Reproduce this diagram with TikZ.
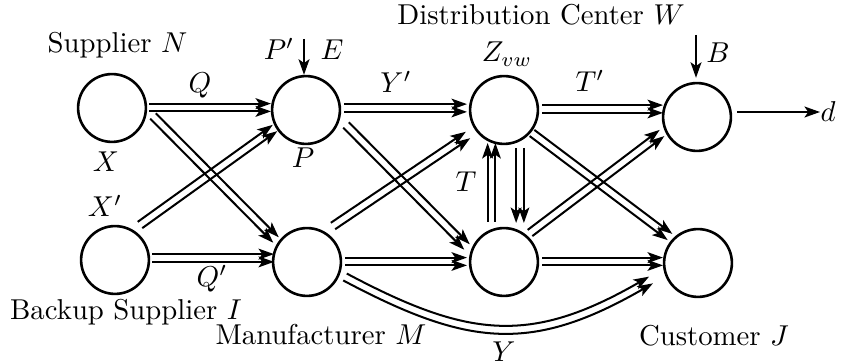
\documentclass[tikz,border=0pt]{standalone}
\usetikzlibrary{calc,arrows.meta}
\newcommand\dbl[4]{%
  \path ($(#1)+(#2)$) coordinate (s) ($(#3)+(#4)$) coordinate (t);
  \draw[arr] ($(s)!1.35pt!90:(t)$) -- ($(t)!1.35pt!-90:(s)$);
  \draw[arr] ($(s)!1.35pt!-90:(t)$) -- ($(t)!1.35pt!90:(s)$);}
\begin{document}
\begin{tikzpicture}[x=0.348pt,y=0.348pt,
  hub/.style={circle,draw,line width=0.9pt,minimum size=23.6pt,inner sep=0pt},
  arr/.style={line width=0.7pt,-{Stealth[length=5.4pt,width=3.8pt,inset=1.3pt]}},
  lab/.style={inner sep=0pt,anchor=base}]
\useasboundingbox (0,0) rectangle (841,364);
% nodes
\node[hub] (N) at (112,256) {};
\node[hub] (I) at (115,104) {};
\node[hub] (P) at (306,254) {};
\node[hub] (M) at (307,102) {};
\node[hub] (Z) at (504,254) {};
\node[hub] (D) at (504,102) {};
\node[hub] (C1) at (697,247) {};
\node[hub] (C2) at (698,101) {};
% labels
\node[lab] (tN) at (117.5,311) {Supplier $N$};
\node[lab] (tW) at (541,339) {Distribution Center $W$};
\node[lab] (tI) at (126,44) {Backup Supplier $I$};
\node[lab] (tM) at (321,19) {Manufacturer $M$};
\node[lab] (tJ) at (714,18) {Customer $J$};
\node[lab] (lX) at (106,192) {$X$};
\node[lab] (lQ) at (200,271) {$Q$};
\node[lab] (lPp) at (279,304) {$P'$};
\node[lab] (lE) at (332,304) {$E$};
\node[lab] (lP) at (303,196) {$P$};
\node[lab] (lYp) at (396,271) {$Y'$};
\node[lab] (lZ) at (507,302) {$Z_{vw}$};
\node[lab] (lTp) at (590,272) {$T'$};
\node[lab] (lB) at (718,301) {$B$};
\node[lab] (lT) at (466,172) {$T$};
\node[lab] (lXp) at (105,147) {$X'$};
\node[lab] (lQp) at (212,77) {$Q'$};
\node[lab] (lY) at (504,2) {$Y$};
\node[anchor=west,inner sep=0pt] (d) at (820,252) {$d$};
% horizontal double arrows
\dbl{N}{37,0.5}{P}{-35,2.5}
\dbl{I}{37,2}{M}{-33,4}
\dbl{P}{38,2}{Z}{-37,2}
\dbl{M}{38,0.5}{D}{-37,0.5}
\dbl{Z}{38,1}{C1}{-34,8}
\dbl{D}{38,0.5}{C2}{-35,1.5}
% diagonal double arrows
\dbl{N}{41,-8}{M}{-31,22}
\dbl{I}{25,35}{P}{-31,-18}
\dbl{P}{40,-15}{D}{-37,15}
\dbl{M}{26,36}{Z}{-36,-25}
\dbl{Z}{28,-23}{C2}{-28,26}
\dbl{D}{26,29}{C1}{-35,-16}
% vertical double arrows
\dbl{D}{-12.5,40}{Z}{-12.5,-33}
\dbl{Z}{16,-38}{D}{16,39}
% curved double arrow
\path ($(M)+(38,-15)$) coordinate (cs) ($(C2)+(-47,-17)$) coordinate (ce);
\draw[arr] ($(cs)+(62:1.35pt)$) to[out=-28,in=210,looseness=1.16] ($(ce)+(120:1.35pt)$);
\draw[arr] ($(cs)+(242:1.35pt)$) to[out=-28,in=210,looseness=1.16] ($(ce)+(300:1.35pt)$);
% single arrows
\coordinate (ein) at ($(P.north)+(-2,36)$);
\draw[arr] (ein) -- ($(P.north)+(-2,0)$);
\coordinate (bin) at ($(C1.north)+(-1,47)$);
\draw[arr] (bin) -- ($(C1.north)+(-1,4)$);
\draw[arr] ($(C1)+(40,5)$) -- (d.west);
\end{tikzpicture}
\end{document}
